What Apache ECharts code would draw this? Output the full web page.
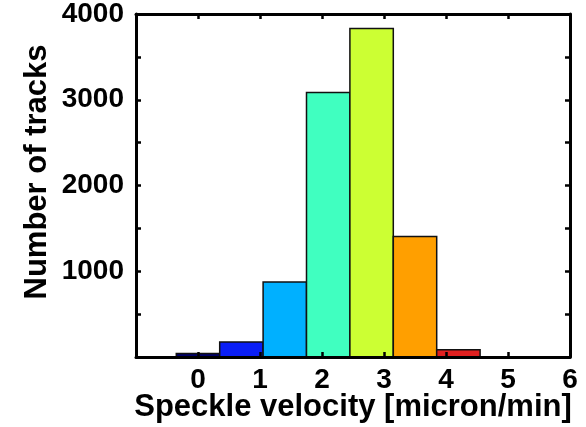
<!DOCTYPE html>
<html>
<head>
<meta charset="utf-8">
<script src="https://cdn.jsdelivr.net/npm/echarts@6/dist/echarts.min.js"></script>
<style>
html,body{margin:0;padding:0;background:#fff;}
#chart{width:586px;height:427px;}
</style>
</head>
<body>
<div id="chart"></div>
<script>
// Histogram data
const binCenters = [0, 0.7, 1.4, 2.1, 2.8, 3.5, 4.2, 4.9];
const trackCounts = [40, 175, 875, 3085, 3830, 1405, 85, 0];
const binWidth = 0.7;
const barColors = ['#000068', '#0a1ef5', '#00b0ff', '#40ffc0', '#ccff33', '#ff9f00', '#e02020', '#800000'];
const xTickLabels = ['', '0', '1', '2', '3', '4', '5', '6'];
const yTickLabels = ['', '1000', '2000', '3000', '4000'];
const xTitle = 'Speckle velocity [micron/min]';
const yTitle = 'Number of tracks';

const FONT = 'Liberation Sans';
const chart = echarts.init(document.getElementById('chart'), null, {renderer: 'canvas'});

const axisLineStyle = {color: '#000', width: 3};
const tickStyle = {color: '#000', width: 2.5};

const seriesData = binCenters.map((c, i) => [c, trackCounts[i]]);

const option = {
  animation: false,
  backgroundColor: '#fff',
  grid: {left: 136, right: 16, top: 14, bottom: 70, containLabel: false, outerBoundsMode: 'none'},
  xAxis: [
    {
      type: 'value', min: -1, max: 6, interval: 1, position: 'bottom', z: 5,
      axisLine: {show: true, onZero: false, lineStyle: axisLineStyle},
      axisTick: {show: true, inside: true, length: 5, lineStyle: tickStyle},
      splitLine: {show: false},
      axisLabel: {
        show: true, margin: 9, color: '#000', fontFamily: FONT, fontWeight: 'bold', fontSize: 28,
        formatter: v => xTickLabels[Math.round(v) + 1] || ''
      },
      name: xTitle, nameLocation: 'middle', nameGap: 35, nameMoveOverlap: false,
      nameTextStyle: {color: '#000', fontFamily: FONT, fontWeight: 'bold', fontSize: 31}
    },
    {
      type: 'value', min: -1, max: 6, interval: 1, position: 'top', z: 5,
      axisLine: {show: true, onZero: false, lineStyle: axisLineStyle},
      axisTick: {show: true, inside: true, length: 5, lineStyle: tickStyle},
      splitLine: {show: false},
      axisLabel: {show: false}
    }
  ],
  yAxis: [
    {
      type: 'value', min: 0, max: 4000, interval: 1000, position: 'left', z: 5,
      axisLine: {show: true, onZero: false, lineStyle: axisLineStyle},
      axisTick: {show: true, inside: true, length: 5, lineStyle: tickStyle},
      minorTick: {show: true, splitNumber: 2, length: 5, lineStyle: tickStyle},
      splitLine: {show: false},
      axisLabel: {
        show: true, margin: 12, color: '#000', fontFamily: FONT, fontWeight: 'bold', fontSize: 28,
        formatter: v => yTickLabels[Math.round(v / 1000)] || ''
      }
    },
    {
      type: 'value', min: 0, max: 4000, interval: 1000, position: 'right', z: 5,
      axisLine: {show: true, onZero: false, lineStyle: axisLineStyle},
      axisTick: {show: true, inside: true, length: 5, lineStyle: tickStyle},
      minorTick: {show: true, splitNumber: 2, length: 5, lineStyle: tickStyle},
      splitLine: {show: false},
      axisLabel: {show: false}
    }
  ],
  graphic: [
    {
      type: 'text', x: 37, y: 172, rotation: Math.PI / 2,
      style: {
        text: yTitle, fill: '#000',
        font: 'bold 31px "' + FONT + '"',
        textAlign: 'center', textVerticalAlign: 'middle'
      }
    }
  ],
  series: [
    {
      type: 'custom',
      xAxisIndex: 0, yAxisIndex: 0,
      data: seriesData,
      renderItem: function (params, api) {
        const x = api.value(0), y = api.value(1);
        const p0 = api.coord([x - binWidth / 2, y]);
        const p1 = api.coord([x + binWidth / 2, 0]);
        return {
          type: 'rect',
          shape: {x: p0[0], y: p0[1], width: p1[0] - p0[0], height: p1[1] - p0[1]},
          style: {fill: barColors[params.dataIndex], stroke: '#111', lineWidth: 1.5}
        };
      }
    }
  ]
};
chart.setOption(option);
</script>
</body>
</html>
